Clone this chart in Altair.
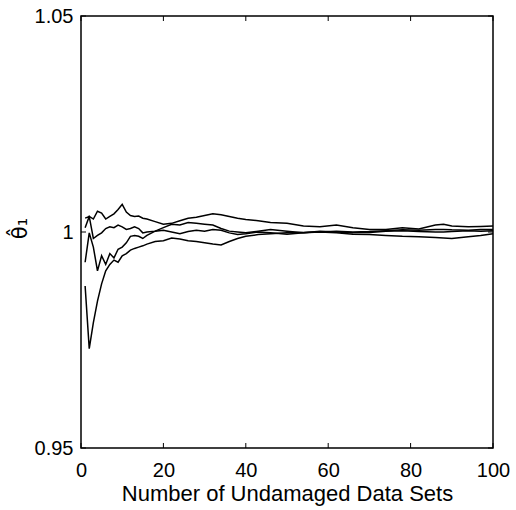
import altair as alt
import pandas as pd

# ---- data ----
x_vals = [1, 2, 3, 4, 5, 6, 7, 8, 9, 10, 11, 12, 13, 14, 15, 16, 18, 20, 22, 24,
          26, 28, 30, 32, 34, 36, 38, 40, 43, 46, 50, 54, 58, 62, 66, 70, 74, 78,
          82, 86, 88, 90, 94, 97, 100]

run_a = [1.0010, 1.0036, 1.0030, 1.0048, 1.0044, 1.0030, 1.0036, 1.0042, 1.0052, 1.0064,
         1.0046, 1.0038, 1.0036, 1.0037, 1.0032, 1.0030, 1.0024, 1.0018, 1.0020, 1.0026,
         1.0032, 1.0034, 1.0038, 1.0042, 1.0040, 1.0036, 1.0032, 1.0029, 1.0026, 1.0022,
         1.0020, 1.0014, 1.0012, 1.0016, 1.0010, 1.0006, 1.0006, 1.0010, 1.0007, 1.0016,
         1.0018, 1.0014, 1.0012, 1.0013, 1.0014]

run_b = [1.0032, 1.0036, 0.9985, 0.9992, 0.9998, 1.0008, 1.0012, 1.0010, 1.0016, 1.0012,
         1.0006, 1.0008, 1.0012, 1.0008, 0.9998, 1.0000, 1.0002, 1.0010, 1.0018, 1.0016,
         1.0022, 1.0020, 1.0018, 1.0016, 1.0008, 1.0002, 1.0000, 0.9998, 1.0002, 1.0006,
         1.0002, 0.9998, 1.0000, 1.0002, 1.0000, 1.0001, 1.0003, 1.0005, 1.0004, 1.0006,
         1.0006, 1.0005, 1.0004, 1.0006, 1.0006]

run_c = [0.9930, 0.9998, 0.9965, 0.9910, 0.9945, 0.9925, 0.9950, 0.9940, 0.9960, 0.9965,
         0.9975, 0.9990, 0.9992, 0.9990, 0.9985, 0.9992, 1.0002, 1.0004, 1.0000, 0.9996,
         1.0001, 1.0004, 1.0002, 1.0006, 1.0004, 0.9998, 0.9994, 0.9996, 1.0000, 0.9998,
         0.9995, 0.9998, 1.0002, 1.0000, 0.9998, 0.9999, 1.0002, 1.0003, 1.0001, 1.0000,
         1.0000, 1.0001, 1.0003, 1.0002, 1.0003]

run_d = [0.9875, 0.9730, 0.9790, 0.9840, 0.9880, 0.9910, 0.9925, 0.9935, 0.9930, 0.9945,
         0.9950, 0.9958, 0.9962, 0.9965, 0.9968, 0.9972, 0.9978, 0.9980, 0.9986, 0.9984,
         0.9980, 0.9978, 0.9975, 0.9972, 0.9970, 0.9978, 0.9985, 0.9990, 0.9994, 0.9996,
         0.9998, 0.9999, 1.0000, 0.9998, 0.9995, 0.9994, 0.9992, 0.9990, 0.9989, 0.9987,
         0.9986, 0.9985, 0.9989, 0.9992, 0.9996]

x_ticks = [0, 20, 40, 60, 80, 100]
y_ticks = [0.95, 1.0, 1.05]

rows = []
for name, ys in (("a", run_a), ("b", run_b), ("c", run_c), ("d", run_d)):
    for xv, yv in zip(x_vals, ys):
        rows.append({"run": name, "x": xv, "y": yv})
df = pd.DataFrame(rows)
xt = pd.DataFrame({"x": x_ticks})
yt = pd.DataFrame({"y": y_ticks})

W, H = 412, 432
FONT = "Liberation Sans"
TL = 5

xscale = alt.Scale(domain=[0, 100], nice=False)
yscale = alt.Scale(domain=[0.95, 1.05], nice=False, zero=False)

x_axis = alt.Axis(values=x_ticks, title="Number of Undamaged Data Sets",
                  format="d", grid=False, domain=False, ticks=False,
                  labelFlush=False, labelOverlap=False,
                  labelPadding=12, labelFontSize=20, labelFont=FONT,
                  labelColor="black", titleFontSize=22, titleFont=FONT,
                  titleFontWeight="normal", titleColor="black",
                  titleBaseline="alphabetic", titleY=52)
y_axis = alt.Axis(values=y_ticks, title="θ̂₁", grid=False, domain=False,
                  ticks=False, labelPadding=8, labelFontSize=20, labelFont=FONT,
                  labelFlush=False, labelOverlap=False,
                  labelColor="black", labelExpr="datum.value == 1 ? '1' : format(datum.value, '.2f')",
                  titleFontSize=21, titleFont="DejaVu Sans", titleFontWeight="normal",
                  titleColor="black", titleAngle=270, titleAlign="center",
                  titleBaseline="middle", titleX=-61, titleY=H / 2 - 4)

lines = alt.Chart(df).mark_line(color="black", strokeWidth=1.5).encode(
    x=alt.X("x:Q", scale=xscale, axis=x_axis),
    y=alt.Y("y:Q", scale=yscale, axis=y_axis),
    detail="run:N",
)

xb = alt.Chart(xt).mark_rule(color="black", strokeWidth=1).encode(
    x=alt.X("x:Q", scale=xscale), y=alt.value(H), y2=alt.value(H - TL))
xtop = alt.Chart(xt).mark_rule(color="black", strokeWidth=1).encode(
    x=alt.X("x:Q", scale=xscale), y=alt.value(0), y2=alt.value(TL))
yl = alt.Chart(yt).mark_rule(color="black", strokeWidth=1).encode(
    y=alt.Y("y:Q", scale=yscale), x=alt.value(0), x2=alt.value(TL))
yr = alt.Chart(yt).mark_rule(color="black", strokeWidth=1).encode(
    y=alt.Y("y:Q", scale=yscale), x=alt.value(W), x2=alt.value(W - TL))

chart = alt.layer(lines, xb, xtop, yl, yr).properties(
    width=W, height=H,
    autosize=alt.AutoSizeParams(type="none"),
    padding={"left": 81, "top": 16, "right": 23, "bottom": 62},
    background="white",
).configure_view(stroke="black", strokeWidth=1.5)

chart.save("out.html", embed_options={"renderer": "svg", "actions": False})
